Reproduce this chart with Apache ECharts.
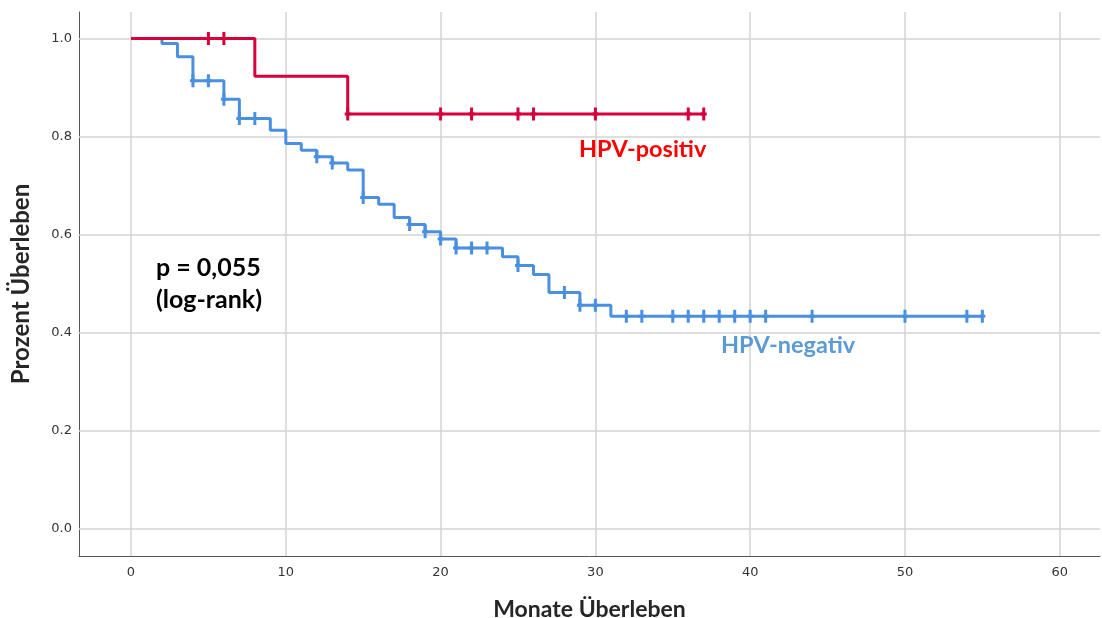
<!DOCTYPE html>
<html>
<head>
<meta charset="utf-8">
<script src="https://cdn.jsdelivr.net/npm/echarts@6/dist/echarts.min.js"></script>
<style>
  html, body { margin: 0; padding: 0; background: #fff; }
  #chart { width: 1102px; height: 618px; }
</style>
</head>
<body>
<div id="chart"></div>
<script>
// Kaplan-Meier survival estimates (time in months, survival proportion after each event)
const posTimes = [0, 8, 14, 37];
const posSurv  = [1.0, 0.923, 0.846, 0.846];
const posCensored = [5, 6, 14, 20, 22, 25, 26, 30, 36, 37];

const negTimes = [0, 2, 3, 4, 6, 7, 9, 10, 11, 12, 13, 14, 15, 16, 17, 18, 19, 20, 21, 24, 25, 26, 27, 29, 31, 55];
const negSurv  = [1.0, 0.990, 0.963, 0.914, 0.876, 0.837, 0.813, 0.786, 0.772, 0.759, 0.746, 0.732, 0.676, 0.662,
                  0.635, 0.621, 0.606, 0.591, 0.573, 0.555, 0.537, 0.519, 0.482, 0.456, 0.434, 0.434];
const negCensored = [4, 5, 6, 7, 8, 12, 13, 15, 18, 19, 20, 21, 22, 23, 25, 28, 29, 30, 32, 33, 35, 36, 37, 38, 39,
                     40, 41, 44, 50, 54, 55];

const xTicks = [0, 10, 20, 30, 40, 50, 60];
const yTicks = [0.0, 0.2, 0.4, 0.6, 0.8, 1.0];

const RED = '#d6003a';
const BLUE = '#4a90e2';

// survival value at time t from a step function
function survAt(times, surv, t) {
  let s = surv[0];
  for (let i = 0; i < times.length; i++) {
    if (times[i] <= t) s = surv[i];
  }
  return s;
}

const pairs = (a, b) => a.map((v, i) => [v, b[i]]);
const censorPts = (c, times, surv) => c.map(t => [t, survAt(times, surv, t)]);

// censor mark: tall vertical bar with a short cross piece (6 x 13 box)
const CENSOR = 'path://M1.5,0 L4.5,0 L4.5,5 L6,5 L6,8 L4.5,8 L4.5,13 L1.5,13 L1.5,8 L0,8 L0,5 L1.5,5 Z';

const chart = echarts.init(document.getElementById('chart'));

const gridLine = { color: '#d3d3d3', width: 1.5, type: 'solid' };

chart.setOption({
  animation: false,
  grid: { left: 79, top: 12, right: 2, bottom: 62, outerBoundsMode: 'none', containLabel: false },
  xAxis: {
    type: 'value',
    min: -3.36, max: 62.6,
    name: 'Monate Überleben',
    nameLocation: 'middle',
    nameGap: 42,
    nameTextStyle: { fontFamily: 'Lato', fontWeight: 'bold', fontSize: 23, color: '#262626' },
    axisLine: { show: true, onZero: false, lineStyle: { color: '#555', width: 1 } },
    axisTick: { show: false },
    splitLine: { show: false },
    axisLabel: {
      customValues: xTicks,
      fontFamily: 'DejaVu Sans', fontSize: 13, color: '#333', margin: 10,
      formatter: v => String(v)
    }
  },
  yAxis: {
    type: 'value',
    min: -0.055, max: 1.054,
    name: 'Prozent Überleben',
    nameLocation: 'middle',
    nameGap: 46,
    nameRotate: 90,
    nameTextStyle: { fontFamily: 'Lato', fontWeight: 'bold', fontSize: 24, color: '#262626' },
    axisLine: { show: true, onZero: false, lineStyle: { color: '#555', width: 1 } },
    axisTick: { show: false },
    splitLine: { show: false },
    axisLabel: {
      customValues: yTicks,
      fontFamily: 'DejaVu Sans', fontSize: 13, color: '#333', margin: 7,
      formatter: v => v.toFixed(1)
    }
  },
  series: [
    {
      // reference grid, kept beneath the curves
      type: 'line', data: [], silent: true, z: -10, zlevel: 0,
      markLine: {
        silent: true, symbol: 'none', label: { show: false },
        lineStyle: gridLine, animation: false,
        data: xTicks.map(v => ({ xAxis: v })).concat(yTicks.map(v => ({ yAxis: v })))
      }
    },
    {
      name: 'HPV-negativ', type: 'line', step: 'end', z: 3, zlevel: 1,
      data: pairs(negTimes, negSurv),
      symbol: 'none', lineStyle: { color: BLUE, width: 3 }
    },
    {
      name: 'HPV-negativ zensiert', type: 'scatter', z: 4, zlevel: 1,
      data: censorPts(negCensored, negTimes, negSurv),
      symbol: CENSOR, symbolSize: [6, 13], itemStyle: { color: BLUE, opacity: 1 }
    },
    {
      name: 'HPV-positiv', type: 'line', step: 'end', z: 5, zlevel: 1,
      data: pairs(posTimes, posSurv),
      symbol: 'none', lineStyle: { color: RED, width: 3 }
    },
    {
      name: 'HPV-positiv zensiert', type: 'scatter', z: 6, zlevel: 1,
      data: censorPts(posCensored, posTimes, posSurv),
      symbol: CENSOR, symbolSize: [6, 13], itemStyle: { color: RED, opacity: 1 }
    }
  ],
  graphic: [
    { type: 'text', left: 579, top: 137, zlevel: 1,
      style: { text: 'HPV-positiv', fill: '#ff0000', font: 'bold 23.5px Lato' } },
    { type: 'text', left: 721, top: 333, zlevel: 1,
      style: { text: 'HPV-negativ', fill: '#5b9bd5', font: 'bold 23.5px Lato' } },
    { type: 'text', left: 156, top: 252, zlevel: 1,
      style: { text: 'p = 0,055\n(log-rank)', fill: '#000', font: 'bold 25px Lato', lineHeight: 32 } }
  ]
});
</script>
</body>
</html>
